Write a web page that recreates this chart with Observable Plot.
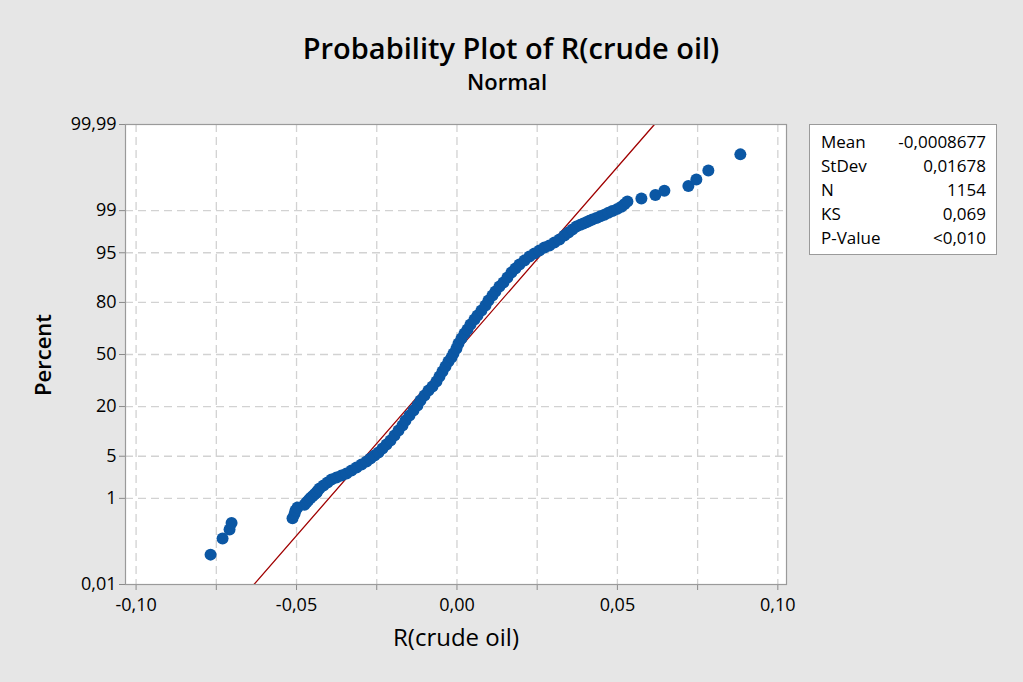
<!DOCTYPE html>
<html>
<head>
<meta charset="utf-8">
<script src="https://cdn.jsdelivr.net/npm/d3@7"></script>
<script src="https://cdn.jsdelivr.net/npm/@observablehq/plot@0.6"></script>
<style>
html, body { margin: 0; padding: 0; }
body { width: 1023px; height: 682px; overflow: hidden; background: #e6e6e6; }
#wrap { position: relative; width: 1023px; height: 682px; font-family: "Open Sans", sans-serif; color: #000; }
#chart { position: absolute; left: 0; top: 0; }
#chart svg text { font-size: 18px !important; fill: #000; }
.lbl { position: absolute; white-space: nowrap; line-height: 1; transform: translate(-50%, -50%); }
#title { font-size: 29px; font-weight: 600; left: 511px; top: 47px; }
#subtitle { font-size: 22px; font-weight: 600; left: 507px; top: 81px; }
#ylabel { font-size: 22px; font-weight: 600; left: 42px; top: 355px; transform: translate(-50%, -50%) rotate(-90deg); }
#xlabel { font-size: 24px; font-weight: 500; left: 456px; top: 637px; }
#stats { position: absolute; left: 809px; top: 124px; width: 186px; height: 129px; background: #fff; border: 1px solid #9a9a9a; font-size: 17px; }
.row { position: absolute; left: 11px; right: 10px; height: 22px; line-height: 22px; }
.row .k { position: absolute; left: 0; }
.row .v { position: absolute; right: 0; }
svg g[aria-label$="-axis tick"] path, svg .tick line { stroke: #8a8a8a !important; }
</style>
</head>
<body>
<div id="wrap">
  <div id="chart"></div>
  <div id="title" class="lbl">Probability Plot of R(crude oil)</div>
  <div id="subtitle" class="lbl">Normal</div>
  <div id="ylabel" class="lbl">Percent</div>
  <div id="xlabel" class="lbl">R(crude oil)</div>
  <div id="stats"></div>
</div>
<script>
// ---- chart texts / ticks ----
const tickPercents = [0.01, 1, 5, 20, 50, 80, 95, 99, 99.99];
const tickPercentLabels = ["0,01", "1", "5", "20", "50", "80", "95", "99", "99,99"];
const gridPercents = [1, 5, 20, 50, 80, 95, 99];
const xTicks = [-0.1, -0.075, -0.05, -0.025, 0, 0.025, 0.05, 0.075, 0.1];
const xTickLabels = ["-0,10", "", "-0,05", "", "0,00", "", "0,05", "", "0,10"];
const statNames = ["Mean", "StDev", "N", "KS", "P-Value"];
const statValues = ["-0,0008677", "0,01678", "1154", "0,069", "<0,010"];
const fitMean = -0.0008677;
const fitStDev = 0.01678;

const returns = [
  -0.07679, -0.07305, -0.07087, -0.07025, -0.05125, -0.05062, -0.05031, -0.04969,
  -0.04751, -0.04688, -0.04626, -0.04564, -0.04502, -0.04439, -0.04377, -0.04346,
  -0.04283, -0.04159, -0.04034, -0.03910, -0.03754, -0.03598, -0.03442, -0.03287,
  -0.03131, -0.02975, -0.02819, -0.02695, -0.02570, -0.02445, -0.02321, -0.02196,
  -0.02072, -0.01947, -0.01822, -0.01698, -0.01604, -0.01480, -0.01355, -0.01231,
  -0.01137, -0.01012, -0.00888, -0.00763, -0.00639, -0.00545, -0.00452, -0.00358,
  -0.00265, -0.00171, -0.00109, -0.00016, 0.00047, 0.00140, 0.00234, 0.00327,
  0.00421, 0.00545, 0.00639, 0.00763, 0.00888, 0.00981, 0.01106, 0.01199,
  0.01324, 0.01449, 0.01573, 0.01698, 0.01822, 0.01947, 0.02103, 0.02259,
  0.02414, 0.02570, 0.02726, 0.02882, 0.03037, 0.03193, 0.03349, 0.03474,
  0.03598, 0.03723,
  0.03847, 0.03941, 0.04034, 0.04128, 0.04221, 0.04346, 0.04470, 0.04595,
  0.04720, 0.04844, 0.05000, 0.05125, 0.05218, 0.05312, 0.05748, 0.06184,
  0.06464, 0.07212, 0.07461, 0.07835, 0.08832
];
const percents = [
  0.0606, 0.1473, 0.2339, 0.3205, 0.4071, 0.4938, 0.5804, 0.6670,
  0.7536, 0.8403, 0.9269, 1.0135, 1.1001, 1.1868, 1.2734, 1.3600,
  1.513, 1.709, 1.925, 2.164, 2.337, 2.522, 2.718, 3.036,
  3.385, 3.766, 4.182, 4.633, 5.123, 5.654, 6.428, 7.283,
  8.219, 9.517, 10.958, 12.551, 14.297, 16.20, 18.26, 20.48,
  22.85, 25.37, 28.03, 30.24, 33.12, 36.10, 39.17, 42.31,
  45.49, 48.07, 50.65, 53.86, 57.06, 60.21, 63.29, 65.70,
  68.62, 71.43, 73.58, 76.16, 78.59, 80.87, 82.99, 84.58,
  86.42, 87.78, 89.34, 90.75, 91.78, 92.72, 93.57, 94.35,
  94.88, 95.37, 95.82, 96.10, 96.49, 96.85, 97.28, 97.57,
  97.84, 98.08,
  98.2069, 98.2935, 98.3801, 98.4667, 98.5534, 98.6400, 98.7266, 98.8132,
  98.8999, 98.9865, 99.0731, 99.1597, 99.2464, 99.3330, 99.4196, 99.5062,
  99.5929, 99.6795, 99.7661, 99.8527, 99.9394
];

// inverse standard normal CDF (Acklam) – used for the normal probability scale
function probit(p) {
  const a = [-3.969683028665376e+01, 2.209460984245205e+02, -2.759285104469687e+02, 1.383577518672690e+02, -3.066479806614716e+01, 2.506628277459239e+00];
  const b = [-5.447609879822406e+01, 1.615858368580409e+02, -1.556989798598866e+02, 6.680131188771972e+01, -1.328068155288572e+01];
  const c = [-7.784894002430293e-03, -3.223964580411365e-01, -2.400758277161838e+00, -2.549671010229528e+00, 4.374664141464968e+00, 2.938163982698783e+00];
  const d = [7.784695709041462e-03, 3.224671290700398e-01, 2.445134137142996e+00, 3.754408661907416e+00];
  const pl = 0.02425, ph = 1 - pl;
  let q, r;
  if (p < pl) {
    q = Math.sqrt(-2 * Math.log(p));
    return (((((c[0]*q+c[1])*q+c[2])*q+c[3])*q+c[4])*q+c[5]) / ((((d[0]*q+d[1])*q+d[2])*q+d[3])*q+1);
  }
  if (p <= ph) {
    q = p - 0.5; r = q * q;
    return (((((a[0]*r+a[1])*r+a[2])*r+a[3])*r+a[4])*r+a[5])*q / (((((b[0]*r+b[1])*r+b[2])*r+b[3])*r+b[4])*r+1);
  }
  q = Math.sqrt(-2 * Math.log(1 - p));
  return -(((((c[0]*q+c[1])*q+c[2])*q+c[3])*q+c[4])*q+c[5]) / ((((d[0]*q+d[1])*q+d[2])*q+d[3])*q+1);
}

const points = returns.map((x, i) => ({x, score: probit(percents[i] / 100)}));
const tickScores = tickPercents.map(p => probit(p / 100));
const gridScores = gridPercents.map(p => probit(p / 100));
const yDomain = [tickScores[0], tickScores[tickScores.length - 1]];
const fitLine = yDomain.map(z => ({x: fitMean + fitStDev * z, score: z}));

const chart = Plot.plot({
  width: 1023,
  height: 682,
  marginLeft: 125,
  marginRight: 237,
  marginTop: 124,
  marginBottom: 98,
  style: {background: "transparent", fontFamily: "Open Sans, sans-serif", fontSize: "18px", color: "#000"},
  x: {
    domain: [-0.1033, 0.1027],
    ticks: xTicks,
    tickFormat: d => { const i = xTicks.findIndex(t => Math.abs(t - d) < 1e-9); return i >= 0 ? xTickLabels[i] : ""; },
    tickSize: 6,
    tickPadding: 8,
    label: null
  },
  y: {
    domain: yDomain,
    ticks: tickScores,
    tickFormat: d => { const i = tickScores.findIndex(t => Math.abs(t - d) < 1e-9); return i >= 0 ? tickPercentLabels[i] : ""; },
    tickSize: 6,
    tickPadding: 3,
    label: null
  },
  marks: [
    Plot.frame({fill: "#fff", stroke: "none"}),
    Plot.ruleX(xTicks, {stroke: "#d2d2d2", strokeWidth: 1.3, strokeDasharray: "8,5"}),
    Plot.ruleY(gridScores, {stroke: "#d2d2d2", strokeWidth: 1.3, strokeDasharray: "8,5"}),
    Plot.line(fitLine, {x: "x", y: "score", stroke: "#a00000", strokeWidth: 1.3, clip: true}),
    Plot.dot(points, {x: "x", y: "score", r: 6, fill: "#0b57a4", stroke: "none"}),
    Plot.frame({stroke: "#9a9a9a", strokeWidth: 1.2})
  ]
});
document.getElementById("chart").appendChild(chart);

const stats = document.getElementById("stats");
statNames.forEach((name, i) => {
  const row = document.createElement("div");
  row.className = "row";
  row.style.top = (6 + i * 24) + "px";
  row.innerHTML = `<span class="k"></span><span class="v"></span>`;
  row.querySelector(".k").textContent = name;
  row.querySelector(".v").textContent = statValues[i];
  stats.appendChild(row);
});
</script>
</body>
</html>
